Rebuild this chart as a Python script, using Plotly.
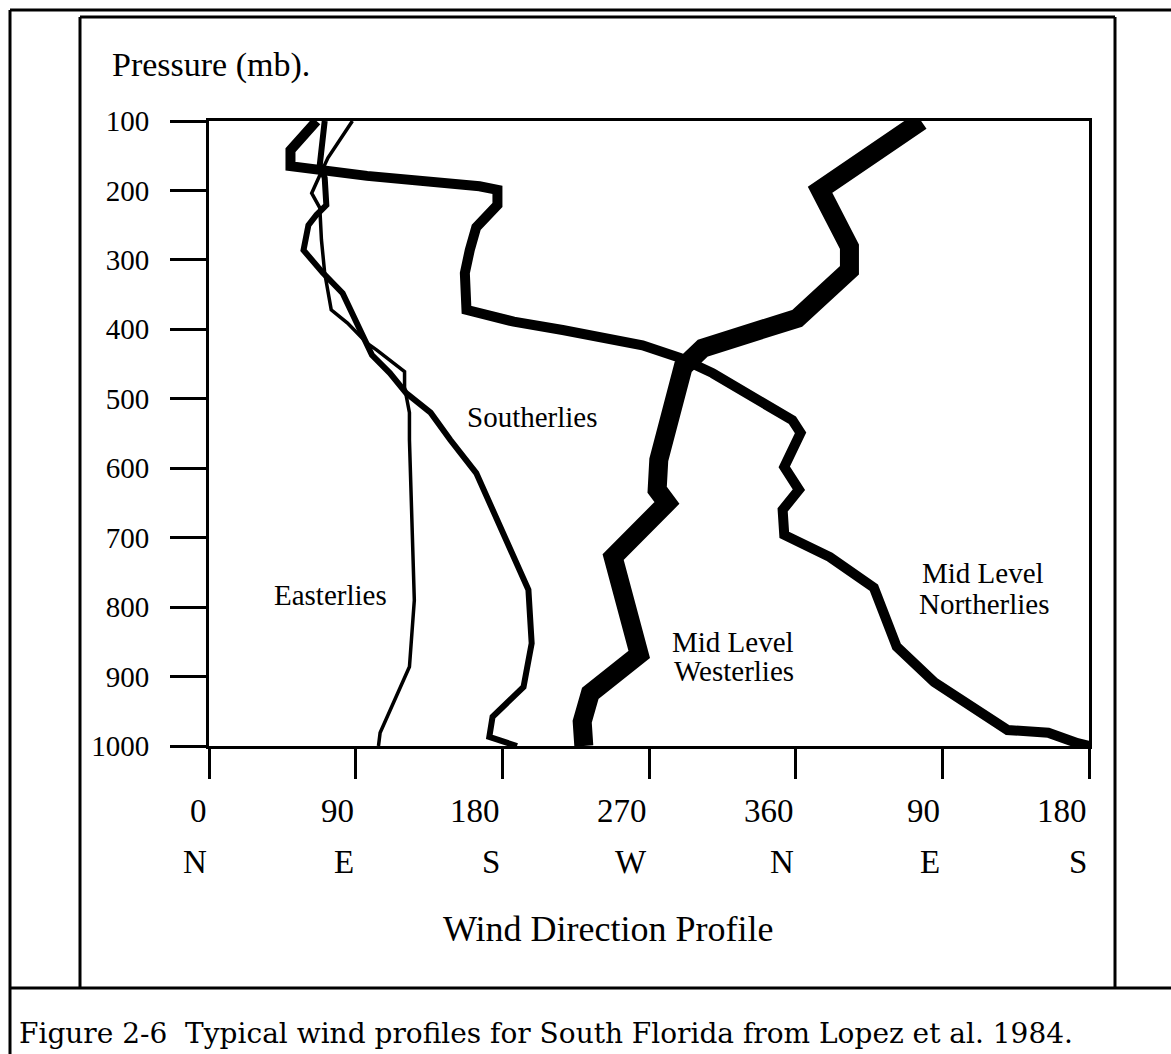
import plotly.graph_objects as go

# ---------------- data (wind direction in degrees, pressure in mb) ----------------
east_deg = [88, 73, 68, 63, 68, 69, 71, 75, 85, 97, 103, 120, 120, 123, 123, 125, 126, 123, 105, 104]
east_p   = [100, 153, 178, 204, 225, 271, 319, 372, 391, 420, 430, 461, 483, 520, 559, 742, 790, 886, 981, 1000]

south_deg = [71, 68, 71, 72, 66, 61, 58, 70, 82, 94, 100, 111, 121, 136, 148, 164, 193, 196, 198, 193, 174, 172, 189]
south_p   = [100, 163, 182, 221, 235, 250, 286, 319, 348, 405, 437, 463, 492, 520, 559, 607, 761, 775, 852, 915, 958, 987, 1000]

west_deg = [437, 375, 393, 393, 361, 303, 291, 282, 276, 275, 281, 248, 264, 234, 229, 230]
west_p   = [100, 199, 281, 315, 384, 427, 454, 549, 588, 631, 650, 728, 868, 924, 965, 1000]

north_deg = [66, 50, 50, 97, 166, 177, 177, 164, 160, 157, 158, 187, 217, 266, 289, 309, 358, 363,
             353, 362, 352, 353, 381, 408, 422, 445, 490, 515, 533, 540]
north_p   = [100, 142, 165, 179, 194, 199, 221, 253, 286, 319, 372, 389, 401, 423, 441, 463, 531, 549,
             598, 631, 660, 696, 728, 772, 857, 908, 977, 981, 996, 1000]

x_tickvals = [0, 90, 180, 270, 360, 450, 540]
x_ticktext = ["0", "90", "180", "270", "360", "90", "180"]
x_dirtext  = ["N", "E", "S", "W", "N", "E", "S"]
y_tickvals = [100, 200, 300, 400, 500, 600, 700, 800, 900, 1000]

# ---------------- layout helpers (pixel -> paper) ----------------
W, H = 1171, 1054
PL, PR, PT, PB = 209, 1089, 121, 746


def px_x(px):
    return (px - PL) / (PR - PL)


def px_y(py):
    return (PB - py) / (PB - PT)


SERIF = "Liberation Serif, Times New Roman, serif"

fig = go.Figure()

series = [
    (east_deg, east_p, 3.5),
    (south_deg, south_p, 6),
    (west_deg, west_p, 19),
    (north_deg, north_p, 10),
]
for xs, ys, w in series:
    fig.add_trace(go.Scatter(x=xs, y=ys, mode="lines",
                             line=dict(color="black", width=w),
                             showlegend=False, hoverinfo="skip"))

annotations = []
# x tick labels (two rows), right-aligned at ticks
for v, t, d in zip(x_tickvals, x_ticktext, x_dirtext):
    annotations.append(dict(x=v, xref="x", y=px_y(811), yref="paper", text=t,
                            showarrow=False, xanchor="right", yanchor="middle",
                            font=dict(family=SERIF, size=33, color="black")))
    annotations.append(dict(x=v, xref="x", y=px_y(862), yref="paper", text=d,
                            showarrow=False, xanchor="right", yanchor="middle",
                            font=dict(family=SERIF, size=33, color="black")))


def label(text, px, py, size=29, anchor="center", family=SERIF):
    annotations.append(dict(x=px_x(px), y=px_y(py), xref="paper", yref="paper",
                            text=text, showarrow=False, xanchor=anchor, yanchor="middle",
                            font=dict(family=family, size=size, color="black")))


label("Pressure (mb).", 110, 65, size=34, anchor="left")
label("Wind Direction Profile", 608, 929, size=36)
label("Easterlies", 330, 595)
label("Southerlies", 532, 417)
label("Mid Level", 733, 642)
label("Westerlies", 734, 671)
label("Mid Level", 983, 573)
label("Northerlies", 984, 604)
label("Figure 2-6\u00a0 Typical wind profiles for South Florida from Lopez et al. 1984.",
      17, 1033, size=28, anchor="left", family="DejaVu Serif, serif")

shapes = []
lw = 3


def hline(x0, x1, y):
    shapes.append(dict(type="line", xref="paper", yref="paper",
                       x0=px_x(x0), x1=px_x(x1), y0=px_y(y), y1=px_y(y),
                       line=dict(color="black", width=lw)))


def vline(x, y0, y1):
    shapes.append(dict(type="line", xref="paper", yref="paper",
                       x0=px_x(x), x1=px_x(x), y0=px_y(y0), y1=px_y(y1),
                       line=dict(color="black", width=lw)))


hline(10, 1171, 10)      # outer top
vline(10, 10, 1054)      # outer left
hline(10, 1171, 988)     # caption separator
# inner box
hline(80, 1115, 17)
vline(80, 17, 988)
vline(1115, 17, 988)

fig.update_layout(
    width=W, height=H,
    margin=dict(l=PL, r=W - PR, t=PT, b=H - PB, pad=0),
    paper_bgcolor="white", plot_bgcolor="white",
    annotations=annotations, shapes=shapes,
    xaxis=dict(range=[0, 540], tickvals=x_tickvals, ticks="outside", ticklen=30,
               tickwidth=3, tickcolor="black", showline=True, linewidth=3,
               linecolor="black", mirror=True, showgrid=False, zeroline=False,
               showticklabels=False, fixedrange=True),
    yaxis=dict(range=[1000, 100], tickvals=y_tickvals, ticks="outside", ticklen=36,
               tickwidth=3, tickcolor="black", showline=True, linewidth=3,
               linecolor="black", mirror=True, showgrid=False, zeroline=False,
               tickfont=dict(family=SERIF, size=29, color="black"),
               ticklabelstandoff=15, fixedrange=True),
)

fig.write_html("out.html",
               config={"displayModeBar": False},
               post_script="document.body.style.margin='0';"
                           "document.body.style.overflow='hidden';")
